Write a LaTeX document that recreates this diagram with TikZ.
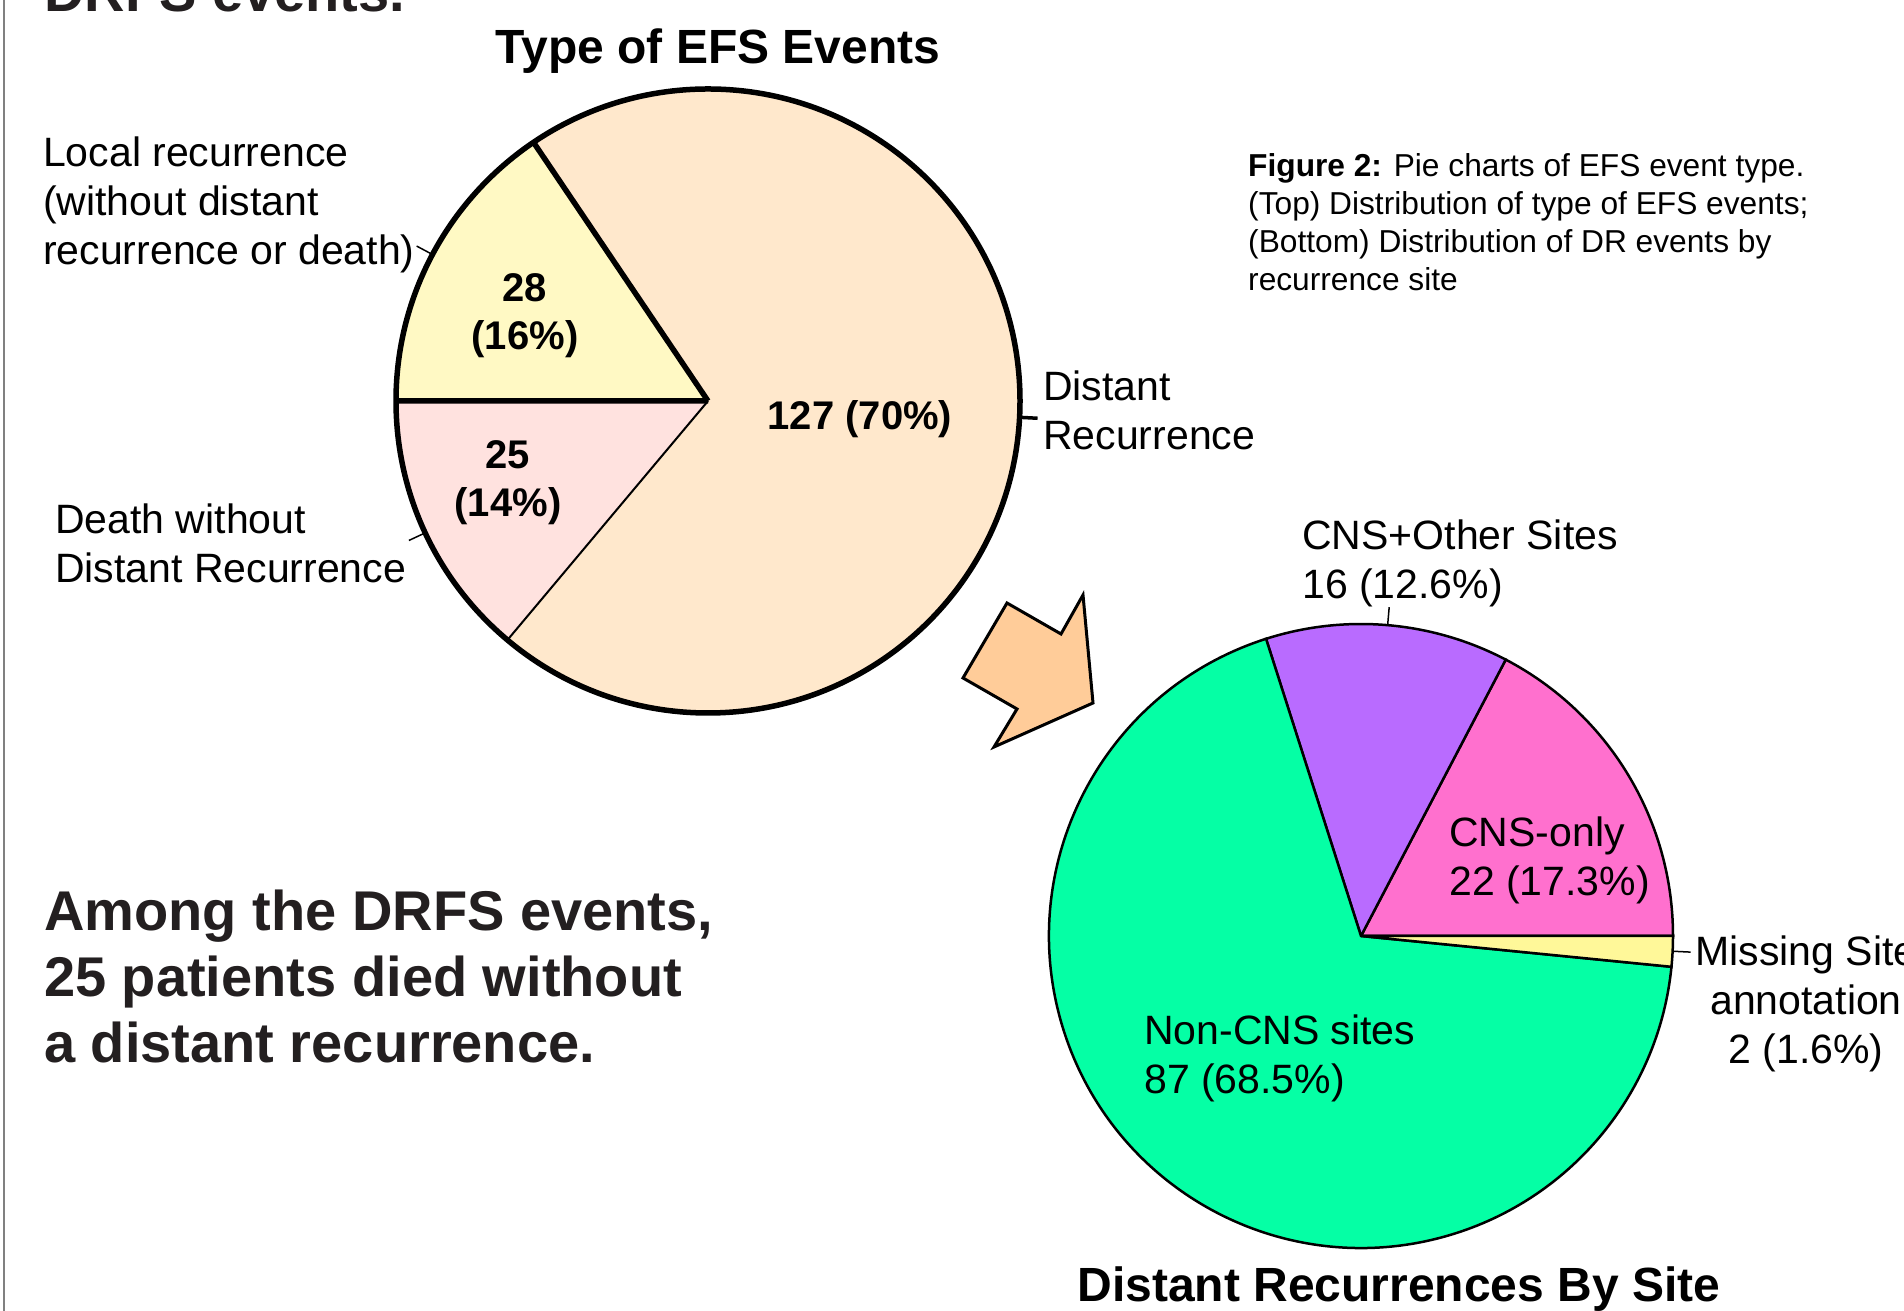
\documentclass[tikz,border=0pt]{standalone}
\usepackage{fontspec}
\setmainfont{Liberation Sans}
\usetikzlibrary{positioning,calc}

\definecolor{drpeach}{HTML}{FFE8CC}
\definecolor{lryellow}{HTML}{FFF9C4}
\definecolor{dthpink}{HTML}{FFE2DF}
\definecolor{arrorange}{HTML}{FFCC99}
\definecolor{noncns}{HTML}{05FFA5}
\definecolor{cnsother}{HTML}{B96BFF}
\definecolor{cnsonly}{HTML}{FF70CE}
\definecolor{missingsite}{HTML}{FFF899}
\definecolor{bigtext}{HTML}{231F20}

\begin{document}
\begin{tikzpicture}[x=1pt, y=1pt,
    lbl/.style={font=\fontsize{41}{48.7}\selectfont, inner sep=0pt, align=left},
    numlbl/.style={font=\bfseries\fontsize{40}{48.5}\selectfont, inner sep=0pt, align=center},
    ttl/.style={font=\bfseries\fontsize{48}{56}\selectfont, inner sep=0pt},
    note/.style={font=\bfseries\fontsize{56}{66}\selectfont, text=bigtext, inner sep=0pt, align=left},
    leader/.style={line width=1.5pt},
    thickpie/.style={line width=5.5pt},
    thinpie/.style={line width=2.5pt}]

  \clip (0,0) rectangle (1904,1311);
  \fill[white] (0,0) rectangle (1904,1311);
  \draw[gray, line width=2.5pt] (4,0) -- (4,1311);

  % top pie
  \coordinate (top) at (708,910);
  \fill[lryellow] (top) -- ++(124:312) arc[start angle=124, end angle=180, radius=312] -- cycle;
  \fill[dthpink] (top) -- ++(180:312) arc[start angle=180, end angle=230, radius=312] -- cycle;
  \fill[drpeach] (top) -- ++(230:312) arc[start angle=230, end angle=484, radius=312] -- cycle;
  \draw[line width=2pt] (top) -- ++(230:312);
  \draw[thickpie] (top) -- ++(124:312) (top) -- ++(180:312);
  \draw[thickpie] (top) circle[radius=312];

  \coordinate (lr-a) at ($(top)+(152:312)$);
  \coordinate (lr-b) at ($(top)+(152:330)$);
  \coordinate (dth-a) at ($(top)+(205:312)$);
  \coordinate (dth-b) at ($(top)+(205:330)$);
  \coordinate (dr-a) at ($(top)+(357:312)$);
  \coordinate (dr-b) at ($(top)+(357:330)$);
  \draw[leader] (lr-a) -- (lr-b);
  \draw[leader] (dth-a) -- (dth-b);
  \draw[line width=3.5pt] (dr-a) -- (dr-b);

  \node (drfs) [note, anchor=base west] at (44,1299) {DRFS events.};
  \node (ttltop) [ttl, anchor=base] at (718,1247) {Type of EFS Events};
  \node (lrlbl) [lbl, anchor=north west] at (43,1174) {Local recurrence\\(without distant\\recurrence or death)};
  \node (dthlbl) [lbl, anchor=north west] at (55,807) {Death without\\Distant Recurrence};
  \node (drlbl) [lbl, anchor=north west] at (1043,940) {Distant\\Recurrence};
  \node (lrnum) [numlbl, anchor=north] at (525,1038) {28\\(16\%)};
  \node (dthnum) [numlbl, anchor=north] at (508,871) {25\\(14\%)};
  \node (drnum) [numlbl, anchor=base] at (860,881) {127 (70\%)};

  \node (cap) [font=\fontsize{31.7}{38.2}\selectfont, inner sep=0pt, align=left, anchor=north west] at (1248,1158)
    {\textbf{Figure 2:} Pie charts of EFS event type.\\(Top) Distribution of type of EFS events;\\(Bottom) Distribution of DR events by\\recurrence site};

  % arrow
  \filldraw[fill=arrorange, line width=3pt, line join=miter]
    (1007,708) -- (1061,677) -- (1083,716) -- (1093,608) -- (994,564) -- (1017,602) -- (963,633) -- cycle;

  % bottom pie
  \coordinate (bot) at (1361,375);
  \filldraw[fill=cnsonly, thinpie] (bot) -- ++(0:312) arc[start angle=0, end angle=62.36, radius=312] -- cycle;
  \filldraw[fill=cnsother, thinpie] (bot) -- ++(62.36:312) arc[start angle=62.36, end angle=107.72, radius=312] -- cycle;
  \filldraw[fill=noncns, thinpie] (bot) -- ++(107.72:312) arc[start angle=107.72, end angle=354.33, radius=312] -- cycle;
  \filldraw[fill=missingsite, thinpie] (bot) -- ++(-5.67:312) arc[start angle=-5.67, end angle=0, radius=312] -- cycle;

  \coordinate (co-a) at ($(bot)+(85.1:312)$);
  \coordinate (co-b) at ($(bot)+(85.1:330)$);
  \coordinate (ms-a) at ($(bot)+(357.2:312)$);
  \coordinate (ms-b) at ($(bot)+(357.2:330)$);
  \draw[leader] (co-a) -- (co-b);
  \draw[leader] (ms-a) -- (ms-b);

  \node (colbl) [lbl, anchor=north west] at (1302,791) {CNS+Other Sites\\16 (12.6\%)};
  \node (cnslbl) [lbl, anchor=north west] at (1449,494) {CNS-only\\22 (17.3\%)};
  \node (mslbl) [lbl, align=center, anchor=north] at (1806,375) {Missing Site\\annotation\\2 (1.6\%)};
  \node (nclbl) [lbl, anchor=north west] at (1144,296) {Non-CNS sites\\87 (68.5\%)};
  \node (ttlbot) [ttl, anchor=base] at (1399,9) {Distant Recurrences By Site};

  \node (among) [note, anchor=north west] at (44,421) {Among the DRFS events,\\25 patients died without\\a distant recurrence.};
\end{tikzpicture}
\end{document}
